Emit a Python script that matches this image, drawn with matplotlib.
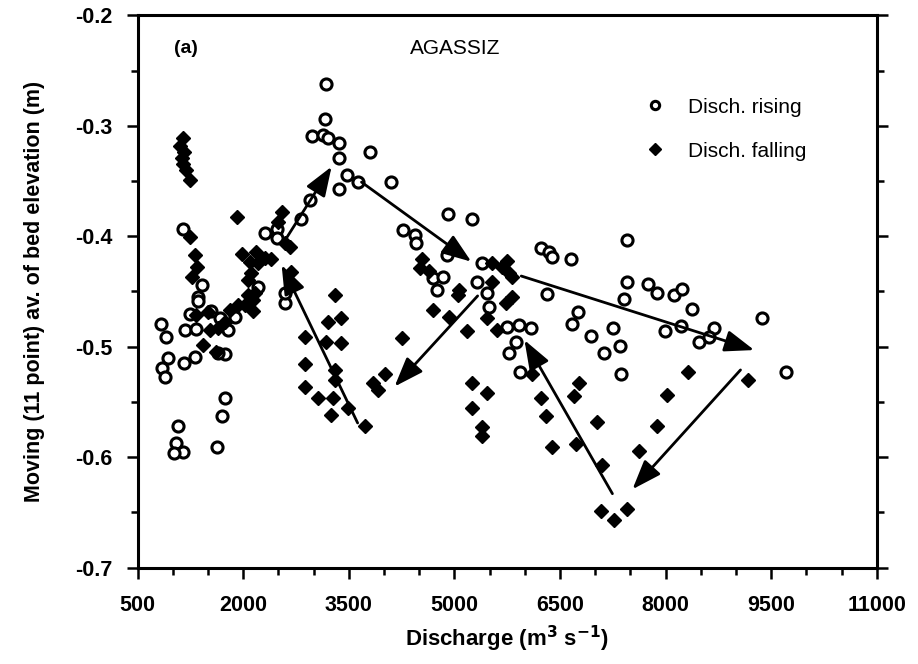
import matplotlib
matplotlib.use("Agg")
import matplotlib.pyplot as plt
from matplotlib.ticker import MultipleLocator

plt.rcParams['font.family'] = ['Liberation Sans', 'DejaVu Sans']

# discharge rising (open circles)
rise_x = [3180, 3155, 2971, 3127, 3198, 3354, 3354, 3794, 3468, 3624, 3354, 4093,
          2942, 2815, 2303, 2474, 2474, 4902, 5257, 4263, 4433, 4448, 4888, 5399,
          4689, 4831, 4746, 5328, 5470, 1409, 1352, 2204, 1139, 6237, 6350, 6393,
          6663, 7458, 6322, 7458, 7756, 7884, 8125, 8239, 7415, 8381, 9375, 7998,
          8225, 8480, 8693, 8622, 7259, 7359, 7131, 6947, 9716, 6762, 6677, 7373,
          5754, 5924, 6095, 5882, 5782, 5939, 5498, 1352, 1238, 1537, 1664, 1877,
          1167, 1324, 1778, 827, 898, 926, 841, 883, 1153, 1309, 1735, 1636,
          1735, 1693, 1622, 1068, 1040, 1139, 1011, 2587, 2587]
rise_y = [-0.262, -0.294, -0.309, -0.308, -0.311, -0.316, -0.329, -0.324, -0.345, -0.351, -0.357, -0.351,
          -0.367, -0.384, -0.397, -0.393, -0.402, -0.380, -0.384, -0.394, -0.399, -0.406, -0.417, -0.424,
          -0.438, -0.437, -0.449, -0.441, -0.451, -0.444, -0.455, -0.446, -0.393, -0.411, -0.414, -0.419,
          -0.421, -0.403, -0.452, -0.441, -0.443, -0.451, -0.453, -0.448, -0.457, -0.466, -0.474, -0.486,
          -0.481, -0.496, -0.483, -0.491, -0.483, -0.499, -0.506, -0.490, -0.523, -0.469, -0.479, -0.525,
          -0.482, -0.480, -0.483, -0.496, -0.506, -0.523, -0.464, -0.459, -0.470, -0.468, -0.474, -0.473,
          -0.485, -0.484, -0.485, -0.479, -0.491, -0.510, -0.519, -0.527, -0.515, -0.509, -0.507, -0.506,
          -0.546, -0.563, -0.591, -0.572, -0.587, -0.595, -0.596, -0.460, -0.451]

# discharge falling (filled diamonds)
fall_x = [1139, 1096, 1153, 1125, 1139, 1182, 1238, 1238, 1309, 1338, 1267, 1906,
          1977, 2545, 2488, 2587, 2176, 2090, 2204, 2303, 2105, 2062, 2161, 2389,
          2658, 2673, 3297, 1423, 1636, 1735, 1806, 1920, 2019, 2133, 2062, 2133,
          1324, 1494, 1608, 1522, 2871, 3198, 3383, 3170, 3383, 2871, 2871, 3056,
          3269, 3297, 3297, 3482, 3241, 3723, 5044, 5825, 5726, 4689, 4930, 5172,
          5456, 5612, 4249, 4007, 3837, 3908, 5243, 5456, 5257, 5399, 5385, 6109,
          6237, 6308, 6393, 6776, 6705, 7032, 6734, 7103, 7089, 7273, 7458, 7628,
          7884, 8026, 8324, 9176, 5541, 5754, 5541, 5825, 5072, 4533, 4646, 4504,
          5683, 5782]
fall_y = [-0.311, -0.318, -0.324, -0.329, -0.335, -0.340, -0.349, -0.401, -0.417, -0.428, -0.437, -0.383,
          -0.416, -0.378, -0.387, -0.406, -0.414, -0.423, -0.424, -0.420, -0.433, -0.440, -0.451, -0.421,
          -0.410, -0.432, -0.453, -0.498, -0.483, -0.478, -0.467, -0.462, -0.462, -0.468, -0.453, -0.458,
          -0.471, -0.469, -0.505, -0.485, -0.491, -0.478, -0.474, -0.496, -0.497, -0.516, -0.536, -0.546,
          -0.546, -0.521, -0.530, -0.555, -0.562, -0.572, -0.453, -0.455, -0.460, -0.467, -0.473, -0.486,
          -0.474, -0.485, -0.492, -0.525, -0.533, -0.539, -0.533, -0.542, -0.555, -0.573, -0.581, -0.525,
          -0.546, -0.563, -0.591, -0.533, -0.545, -0.568, -0.588, -0.607, -0.649, -0.657, -0.647, -0.594,
          -0.572, -0.544, -0.523, -0.530, -0.424, -0.422, -0.441, -0.437, -0.449, -0.421, -0.431, -0.429,
          -0.428, -0.433]

# hysteresis arrows: (start x, start y, end x, end y)
arrows = [
    (2600, -0.403, 3255, -0.337),
    (3680, -0.351, 5240, -0.423),
    (3625, -0.569, 2545, -0.426),
    (5330, -0.454, 4150, -0.536),
    (7245, -0.633, 5995, -0.494),
    (5950, -0.436, 9260, -0.503),
    (9065, -0.521, 7530, -0.629),
]

x_ticks = [500, 2000, 3500, 5000, 6500, 8000, 9500, 11000]
y_ticks = [-0.7, -0.6, -0.5, -0.4, -0.3, -0.2]

fig = plt.figure(figsize=(9.18, 6.64), dpi=100)
ax = fig.add_axes([0.150, 0.145, 0.805, 0.832])

ax.plot(rise_x, rise_y, 'o', ms=8, mfc='white', mec='black', mew=2.2,
        ls='none', label='Disch. rising')
ax.plot(fall_x, fall_y, 'D', ms=7.5, mfc='black', mec='black',
        ls='none', label='Disch. falling')

for x0, y0, x1, y1 in arrows:
    ax.annotate('', xy=(x1, y1), xytext=(x0, y0),
                arrowprops=dict(arrowstyle='-|>,head_length=0.9,head_width=0.33',
                                lw=2, color='black', mutation_scale=20,
                                shrinkA=0, shrinkB=0))

ax.set_xlim(500, 11000)
ax.set_ylim(-0.7, -0.2)
ax.set_xticks(x_ticks)
ax.set_xticklabels([str(t) for t in x_ticks])
ax.xaxis.set_minor_locator(MultipleLocator(500))
ax.set_yticks(y_ticks)
ax.set_yticklabels(['%.1f' % t for t in y_ticks])
ax.yaxis.set_minor_locator(MultipleLocator(0.05))

ax.tick_params(which='both', direction='out', right=True, width=1.8,
               labelsize=15.5)
ax.tick_params(axis='x', pad=12)
ax.tick_params(axis='y', pad=10)
ax.tick_params(which='major', length=8)
ax.tick_params(which='minor', length=5)
for lab in ax.get_xticklabels() + ax.get_yticklabels():
    lab.set_fontweight('bold')
for sp in ax.spines.values():
    sp.set_linewidth(2.2)

ax.set_xlabel('Discharge (m$^\\mathbf{3}$ s$^\\mathbf{-1}$)', fontsize=16,
              fontweight='bold', labelpad=5)
ax.set_ylabel('Moving (11 point) av. of bed elevation (m)', fontsize=15.5,
              fontweight='bold', labelpad=22)

ax.text(0.065, 0.94, '(a)', transform=ax.transAxes, fontsize=14,
        fontweight='bold', ha='center', va='center')
ax.text(0.43, 0.94, 'AGASSIZ', transform=ax.transAxes, fontsize=15,
        ha='center', va='center')

leg = ax.legend(loc='upper right', bbox_to_anchor=(0.93, 0.885), frameon=False,
                fontsize=15, handletextpad=0.6, labelspacing=1.2,
                markerscale=0.75)

fig.savefig('out.png', dpi=100)
